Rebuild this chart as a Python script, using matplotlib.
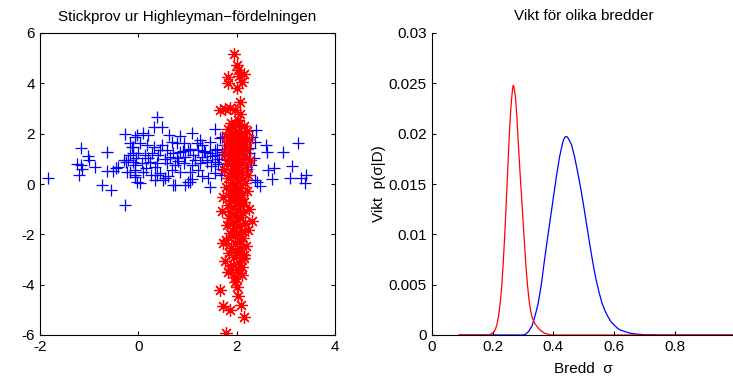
import matplotlib
matplotlib.use("Agg")
import matplotlib.pyplot as plt

plt.rcParams['font.family'] = ['Liberation Sans', 'DejaVu Sans']
plt.rcParams['axes.unicode_minus'] = False

# Stickprov: blå klass (+)
blue_x = [-1.83, -1.17, -1.02, -1.00, -1.25, -1.17, -1.15, -1.20, -0.88, -0.64,
          -0.74, -0.56, -0.64, -0.52, -0.45, -0.41, -0.27, -0.27, -0.29, -0.25,
          -0.20, -0.17, -0.13, -0.07, -0.10, -0.17, -0.07, -0.03, -0.07,
          0.37, 0.31, 0.48, -0.03, 0.10, 0.20, 0.63, 0.85, 1.09, 1.46, 1.56, 1.66,
          -0.10, 0.03, 0.17, 0.31, 0.48, 0.68, 0.78, 0.92, 1.19, 1.29,
          0.58, 0.85, 1.02, 1.22, 1.36, 1.56, -0.17, 0.00, 0.14, 0.27, 0.41,
          0.64, 0.78, 0.95, 1.12, 1.29, 1.46, 1.59, 1.70, -0.10, 0.07, 0.24,
          0.37, 0.58, 0.75, 0.92, 1.09, 1.25, 1.39, 1.56, -0.07, 0.10, 0.34,
          0.44, 0.68, 0.85, 1.05, 1.22, -0.07, 0.03, 0.34, 0.51, 0.71, 1.02,
          1.42, 1.46, 0.37, 0.75, 1.05, 0.54, -0.24,
          2.39, 2.32, 2.37, 2.59, 3.24, 2.27, 2.61, 2.95, 2.35, 2.17, 3.12,
          2.75, 2.64, 2.37, 2.48, 2.71, 3.09, 3.31, 3.42, 3.38, 2.07, 2.41,
          1.75, 1.80, 1.85, 1.90, 1.95, 2.00, 2.05, 2.10, 2.15, 2.20, 1.70,
          1.65, 1.60, 1.50, 1.40, 1.33, 1.48, 1.62, 0.90, 0.80, 0.70, 1.15,
          1.05, 0.55, 0.45, 0.20, 0.15, -0.05, 1.75, 1.68, 1.55, 1.30, 1.10,
          0.95, 0.60, 0.25, 1.25, 1.70, 1.90, 2.25, 2.30]
blue_y = [0.23, 1.44, 1.11, 0.95, 0.79, 0.75, 0.58, 0.36, 0.69, 1.26,
          -0.04, -0.24, 0.52, 0.52, 0.62, 0.69, 1.97, -0.83, 0.95, 0.89,
          0.95, 1.62, 1.48, 1.88, 1.22, 0.49, 0.36, 0.09, 0.75,
          2.65, 2.28, 2.28, 1.95, 2.01, 1.95, 1.95, 1.91, 2.01, 1.68, 2.17, 1.82,
          1.48, 1.62, 1.55, 1.48, 1.55, 1.68, 1.62, 1.62, 1.62, 1.55,
          1.35, 1.28, 1.35, 1.35, 1.28, 1.35, 1.15, 1.22, 1.15, 1.22, 1.15,
          1.08, 1.02, 1.08, 1.15, 1.08, 1.22, 1.15, 1.28, 0.89, 0.82, 0.89,
          0.82, 0.82, 0.75, 0.82, 0.75, 0.82, 0.89, 0.89, 0.56, 0.49, 0.69,
          0.43, 0.56, 0.49, 0.49, 0.56, 0.29, 0.03, 0.16, 0.16, -0.04, 0.09,
          0.23, -0.11, 0.36, -0.04, 0.09, 0.23, 0.49,
          2.15, 1.88, 1.68, 1.55, 1.62, 1.42, 1.28, 1.26, 1.02, 1.48, 0.73,
          0.62, 0.56, 0.16, -0.08, 0.19, 0.23, 0.23, 0.36, 0.05, 1.22, 0.09,
          1.20, 0.95, 1.40, 0.70, 1.10, 1.30, 0.85, 1.50, 1.00, 0.60, 0.60,
          1.00, 1.40, 1.10, 0.95, 1.30, 0.70, 0.80, 1.30, 0.90, 1.25, 0.95,
          1.40, 1.00, 1.35, 1.05, 0.65, 1.05, 1.55, 0.35, 0.45, 0.30, 0.20,
          -0.05, 0.30, 0.35, 1.75, 1.85, 1.60, 1.25, 0.75]

# Stickprov: röd klass (*)
red_x = [1.95, 2.01, 2.03, 1.83, 2.14, 2.05, 1.82, 2.10, 2.00, 2.07, 1.66, 1.76,
         1.86, 1.97, 2.07, 2.03,
         1.88, 2.05, 2.15, 1.95, 1.82, 2.02, 2.20, 1.90, 2.08, 1.78, 1.97, 2.12,
         2.25, 1.86, 2.03, 1.93, 2.17, 1.80, 2.00, 2.10, 1.90, 2.22, 1.84, 1.99,
         2.07, 1.76, 1.94, 2.14, 2.02, 1.87, 2.28, 1.96, 2.10, 1.81, 2.04, 1.91,
         2.19, 1.98, 1.74, 2.08, 1.88, 2.01, 2.24, 1.94, 1.83, 2.12, 2.03, 1.90,
         2.17, 1.98, 1.79, 2.07, 1.93, 2.21, 2.00, 1.86, 2.11, 1.95, 1.72, 2.05,
         1.89, 2.15, 1.99, 1.82, 2.09, 1.94, 2.26, 2.02, 1.87, 1.70, 2.13, 1.96,
         2.06, 1.84, 2.31, 2.00, 1.92, 2.16, 1.80, 2.04, 1.95, 2.24, 2.10, 1.86,
         2.01, 1.93, 2.13, 1.78, 2.05, 1.73, 1.97, 2.18, 1.89, 2.07, 2.00, 1.84,
         2.15, 2.14, 1.95, 1.76, 2.04, 1.92, 2.10, 1.87, 2.02, 1.83, 2.10, 1.97,
         2.06, 1.97, 2.00, 1.66, 2.03, 1.73, 1.86, 2.09, 2.14, 1.78]
red_y = [5.17, 4.73, 4.53, 4.26, 4.37, 4.29, 4.03, 4.06, 3.80, 3.27, 2.94, 2.97,
         3.01, 2.94, 2.78, 2.54,
         2.42, 2.38, 2.30, 2.25, 2.18, 2.12, 2.10, 2.02, 1.98, 1.92, 1.88, 1.84,
         1.80, 1.74, 1.70, 1.64, 1.60, 1.55, 1.52, 1.46, 1.40, 1.38, 1.32, 1.28,
         1.22, 1.18, 1.14, 1.10, 1.04, 0.98, 0.95, 0.90, 0.86, 0.82, 0.76, 0.70,
         0.66, 0.60, 0.56, 0.52, 0.46, 0.40, 0.36, 0.30, 0.24, 0.20, 0.14, 0.08,
         0.02, -0.04, -0.10, -0.14, -0.20, -0.26, -0.30, -0.36, -0.42, -0.48, -0.52, -0.58,
         -0.64, -0.70, -0.76, -0.82, -0.88, -0.94, -0.98, -1.04, -1.10, -1.06, -1.16, -1.22,
         -1.30, -1.36, -1.46, -1.42, -1.50, -1.56, -1.62, -1.68, -1.76, -1.83, -1.88, -1.94,
         -2.00, -2.08, -2.14, -2.22, -2.28, -2.36, -2.40, -2.46, -2.54, -2.60, -2.70, -2.76,
         -2.84, -2.95, -2.90, -3.05, -3.10, -3.20, -3.30, -3.38, -3.42, -3.48, -3.62, -3.70,
         -3.55, -3.88, -4.10, -4.21, -4.45, -4.85, -5.01, -4.81, -5.27, -5.93]

# Vikt p(sigma|D), avläst från kurvorna
sigma_red = [0.09, 0.15, 0.190, 0.195, 0.200, 0.205, 0.210, 0.215, 0.220, 0.225,
             0.230, 0.235, 0.240, 0.245, 0.250, 0.255, 0.260, 0.265, 0.268,
             0.270, 0.275, 0.280, 0.285, 0.290, 0.295, 0.300, 0.305, 0.310,
             0.315, 0.320, 0.325, 0.330, 0.335, 0.340, 0.350, 0.360, 0.370,
             0.380, 0.390, 0.50, 0.70, 1.00]
w_red = [0.0, 0.0, 0.0, 0.0001, 0.0002, 0.0003, 0.0006, 0.0011, 0.0019, 0.0031,
         0.0047, 0.0070, 0.0098, 0.0130, 0.0164, 0.0197, 0.0224, 0.0242, 0.0248,
         0.0247, 0.0238, 0.0218, 0.0190, 0.0164, 0.0140, 0.0116, 0.0092, 0.0068,
         0.0050, 0.0035, 0.0025, 0.0018, 0.0014, 0.0011, 0.0007, 0.0004, 0.0002,
         0.0001, 0.0, 0.0, 0.0, 0.0]

sigma_blue = [0.09, 0.20, 0.30, 0.31, 0.32, 0.33, 0.34, 0.35, 0.36, 0.37, 0.38,
              0.39, 0.40, 0.41, 0.42, 0.43, 0.435, 0.44, 0.445, 0.45, 0.46, 0.47,
              0.48, 0.49, 0.50, 0.51, 0.52, 0.53, 0.54, 0.55, 0.56, 0.57, 0.58,
              0.59, 0.60, 0.61, 0.62, 0.63, 0.64, 0.65, 0.67, 0.70, 0.75, 0.85, 1.00]
w_blue = [0.0, 0.0, 0.0, 0.0001, 0.0004, 0.0009, 0.0019, 0.0031, 0.0049, 0.0072,
          0.0094, 0.0115, 0.0136, 0.0157, 0.0176, 0.0190, 0.0195, 0.0197, 0.0197,
          0.0195, 0.0189, 0.0177, 0.0162, 0.0146, 0.0128, 0.0109, 0.0090, 0.0072,
          0.0056, 0.0043, 0.0032, 0.0024, 0.0018, 0.0013, 0.0010, 0.0007, 0.0005,
          0.0004, 0.0003, 0.0002, 0.0001, 0.00003, 0.0, 0.0, 0.0]

fig = plt.figure(figsize=(7.33, 3.81), dpi=100)

# vänster: stickprov
ax1 = fig.add_axes([40/733, 1 - 335/381, 295/733, 302/381])
ax1.plot(blue_x, blue_y, '+', color='b', markersize=9, markeredgewidth=0.9)
ax1.plot(red_x, red_y, linestyle='none', marker=(8, 2, 0), color='r',
         markersize=9, markeredgewidth=0.9)
ax1.set_xlim(-2, 4)
ax1.set_ylim(-6, 6)
ax1.set_xticks([-2, 0, 2, 4])
ax1.set_yticks([-6, -4, -2, 0, 2, 4, 6])
ax1.tick_params(direction='in', top=True, right=True, length=3, labelsize=11)
ax1.set_title('Stickprov ur Highleyman\u2212fördelningen', fontsize=11, pad=9)

# höger: vikter
ax2 = fig.add_axes([431.7/733, 1 - 335/381, 304/733, 302/381])
ax2.plot(sigma_blue, w_blue, color='b', linewidth=0.9)
ax2.plot(sigma_red, w_red, color='r', linewidth=0.9)
ax2.set_xlim(0, 1)
ax2.set_ylim(0, 0.03)
ax2.set_xticks([0, 0.2, 0.4, 0.6, 0.8])
ax2.set_xticklabels(['0', '0.2', '0.4', '0.6', '0.8'])
ax2.set_yticks([0, 0.005, 0.01, 0.015, 0.02, 0.025, 0.03])
ax2.set_yticklabels(['0', '0.005', '0.01', '0.015', '0.02', '0.025', '0.03'])
ax2.spines['top'].set_visible(False)
ax2.spines['right'].set_visible(False)
ax2.tick_params(direction='in', length=3, labelsize=11)
ax2.set_title('Vikt för olika bredder', fontsize=11, pad=9)
ax2.set_xlabel('Bredd  σ', fontsize=11, labelpad=6)
ax2.set_ylabel('Vikt  p(σ|D)', fontsize=11, labelpad=2)

fig.savefig('out.png', dpi=100)
